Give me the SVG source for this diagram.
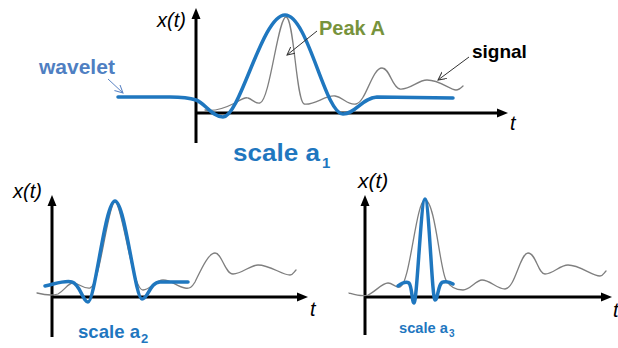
<svg xmlns="http://www.w3.org/2000/svg" width="618" height="348" viewBox="0 0 618 348">
<style>
.axis{stroke:#000;stroke-width:3;fill:none}
.sig{stroke:#7f7f7f;stroke-width:1.3;fill:none;stroke-linejoin:round;stroke-linecap:round}
.wav{stroke:#1f77bf;stroke-width:3.5;fill:none;stroke-linejoin:round;stroke-linecap:round}
.lab{font-family:"Liberation Sans",Arial,sans-serif;font-style:italic;fill:#000}
.scale{font-family:"Liberation Sans",Arial,sans-serif;font-weight:bold;fill:#1f77bf}
.ann{font-family:"Liberation Sans",Arial,sans-serif;font-weight:bold}
.ptr{stroke-width:1;fill:none}
</style>
<defs>
<marker id="ah" markerUnits="userSpaceOnUse" markerWidth="12" markerHeight="10" refX="0" refY="5" orient="auto">
<path d="M0,0 L11,4.5 L0,9 z" fill="#000" transform="translate(0,0.5)"/>
</marker>
<marker id="openDark" markerUnits="userSpaceOnUse" markerWidth="10" markerHeight="10" refX="8" refY="4" orient="auto">
<path d="M0,0 L8,4 L0,8" fill="none" stroke="#333" stroke-width="1"/>
</marker>
<marker id="openBlue" markerUnits="userSpaceOnUse" markerWidth="10" markerHeight="10" refX="8" refY="4" orient="auto">
<path d="M0,0 L8,4 L0,8" fill="none" stroke="#5b84c4" stroke-width="1"/>
</marker>
</defs>

<g id="panel-a1">
<line class="axis" x1="196" y1="143" x2="196" y2="19" marker-end="url(#ah)"/>
<line class="axis" x1="196" y1="113" x2="497" y2="113" marker-end="url(#ah)"/>
<text class="lab" x="157" y="27" font-size="20">x(t)</text>
<text class="lab" x="510" y="130" font-size="20">t</text>
<path class="sig" d="M205,110 C215,112 225,108 235,103 C242,99 245,97 248,98 C252,99 255,104 260,103 C270,100 278,17 286,17 C294,17 296,100 304,104 C314,106 325,95 335,96 C343,97 348,106 356,104 C366,102 372,68 382,68 C390,68 392,88 400,89 C410,90 418,80 427,80 C440,80 450,90 456,90 C459,90 461,88 463,86"/>
<path class="wav" d="M118,97 L170,97 C184,97 190,98 196,100 C205,103 212,117 223,117 C240,117 262,15 285,15 C308,15 325,114 343,114 C355,114 362,98 377,97 L453,98"/>
<text class="scale" x="233" y="161" font-size="24" textLength="87" lengthAdjust="spacingAndGlyphs">scale a</text>
<text class="scale" x="322" y="168" font-size="15">1</text>
</g>

<g id="panel-a2">
<line class="axis" x1="52" y1="337" x2="52" y2="206" marker-end="url(#ah)"/>
<line class="axis" x1="52" y1="297" x2="297" y2="297" marker-end="url(#ah)"/>
<text class="lab" x="13" y="198" font-size="20">x(t)</text>
<text class="lab" x="310" y="316" font-size="20">t</text>
<path class="sig" d="M37,293 C45,295 52,296 58,294 C65,290 68,283 73,283 C79,283 83,289 90,288 C100,286 108,202 115,202 C122,202 132,290 143,290 C150,290 156,280 163,280 C172,280 177,287 185,288 C190,289 192,287 195,282 C200,272 208,253 215,253 C222,253 225,274 233,274 C242,274 250,265 258,265 C270,265 282,275 290,275 C293,275 294,272 296,270"/>
<path class="wav" d="M45,286 C55,284 65,280 72,282 C80,284 83,302 88,302 C95,302 105,201 115,201 C125,201 135,299 142,299 C148,299 150,282 160,282 L188,282"/>
<text class="scale" x="78" y="338" font-size="19" textLength="62" lengthAdjust="spacingAndGlyphs">scale a</text>
<text class="scale" x="141" y="343" font-size="13">2</text>
</g>

<g id="panel-a3">
<line class="axis" x1="365" y1="335" x2="365" y2="206" marker-end="url(#ah)"/>
<line class="axis" x1="365" y1="297" x2="601" y2="297" marker-end="url(#ah)"/>
<text class="lab" x="358" y="188" font-size="21">x(t)</text>
<text class="lab" x="613" y="317" font-size="20">t</text>
<path class="sig" d="M349,293 C356,295 362,297 368,295 C375,292 382,283 388,283 C393,283 395,288 400,287 C410,285 416,200 425,200 C435,200 440,270 446,280 C450,287 456,290 463,290 C470,290 476,280 482,280 C490,280 497,289 505,289 C515,289 520,253 528,253 C536,253 538,274 545,274 C553,274 560,265 568,265 C580,265 592,276 600,276 C603,276 604,273 606,271"/>
<path class="wav" d="M398,286 C402,283 406,281 409,283 C412,286 412,303 414,303 C417,303 421,199 425,199 C429,199 432,300 435,300 C438,300 438,283 443,282 C447,281 450,282 453,284"/>
<text class="scale" x="399" y="333" font-size="15" textLength="49" lengthAdjust="spacingAndGlyphs">scale a</text>
<text class="scale" x="449" y="337" font-size="10">3</text>
</g>

<g id="label-wavelet">
<text class="ann" x="39" y="74" font-size="21" fill="#4f7fc2">wavelet</text>
</g>
<g id="label-peakA">
<text class="ann" x="319" y="35" font-size="20" fill="#77933c">Peak A</text>
</g>
<g id="label-signal">
<text class="ann" x="472" y="58" font-size="19" fill="#000">signal</text>
</g>

<g id="connectors">
<line class="ptr" x1="108" y1="79" x2="123" y2="93" stroke="#5b84c4" marker-end="url(#openBlue)"/>
<line class="ptr" x1="317" y1="31" x2="287" y2="55" stroke="#333" marker-end="url(#openDark)"/>
<line class="ptr" x1="469" y1="57" x2="438" y2="80" stroke="#333" marker-end="url(#openDark)"/>
</g>
</svg>
